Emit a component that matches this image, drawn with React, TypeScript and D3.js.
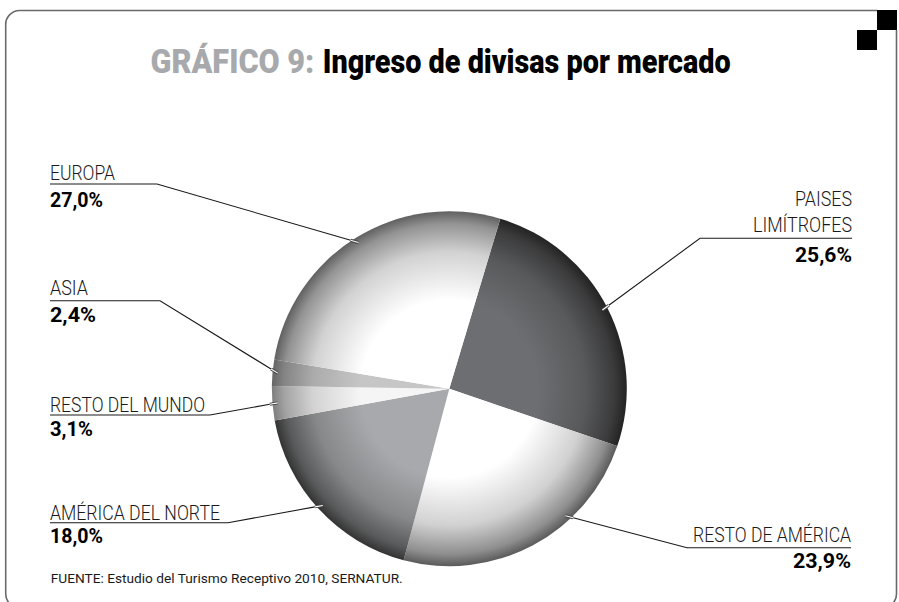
import React from "react";
import * as d3 from "d3";

// data
const categories = ["PAISES LIMÍTROFES", "RESTO DE AMÉRICA", "AMÉRICA DEL NORTE", "RESTO DEL MUNDO", "ASIA", "EUROPA"];
const nameLines = [["PAISES", "LIMÍTROFES"], ["RESTO DE AMÉRICA"], ["AMÉRICA DEL NORTE"], ["RESTO DEL MUNDO"], ["ASIA"], ["EUROPA"]];
const shares = [25.6, 23.9, 18.0, 3.1, 2.4, 27.0];
const baseColors = ["#6d6e71", "#ffffff", "#a7a9ac", "#f5f5f5", "#c6c6c6", "#ffffff"];
const rimColors = ["#232323", "#5a5a5a", "#333333", "#7d7d7d", "#666666", "#606060"];

const titleLead = "GRÁFICO 9:";
const titleText = "Ingreso de divisas por mercado";
const sourceText = "FUENTE: Estudio del Turismo Receptivo 2010, SERNATUR.";

// label layout (positions only)
const labelLayout = [
  { side: "right", x: 852, nameY: [206, 231.5], nameW: [57, 99], lineY: 238.3, valueY: 261.5, valueW: 57, elbowX: 700, shift: 0 },
  { side: "right", x: 851, nameY: [541.5], nameW: [158], lineY: 547.7, valueY: 568, valueW: 58, elbowX: 687, shift: -14.3 },
  { side: "left", x: 50, nameY: [520], nameW: [170], lineY: 522.7, valueY: 543, valueW: 53, elbowX: 228, shift: 0 },
  { side: "left", x: 50, nameY: [411.5], nameW: [155], lineY: 415, valueY: 436, valueW: 43, elbowX: 210, shift: 0 },
  { side: "left", x: 50, nameY: [295], nameW: [38], lineY: 300.7, valueY: 321.5, valueW: 46, elbowX: 160, shift: 0 },
  { side: "left", x: 50, nameY: [180], nameW: [65], lineY: 184, valueY: 207, valueW: 53, elbowX: 157, shift: 0 },
];

const W = 899;
const H = 602;
const cx = 449.3;
const cy = 388.7;
const R = 177.5;
const startDeg = 16.7;

const esLocale = d3.formatLocale({ decimal: ",", thousands: ".", grouping: [3], currency: ["$", ""] });
const fmt = esLocale.format(".1f");

const FONT = "Roboto, 'Liberation Sans', Arial, sans-serif";

export default function App() {
  const rad = (startDeg * Math.PI) / 180;
  const pie = d3
    .pie<number>()
    .value((d) => d)
    .sort(null)
    .startAngle(rad)
    .endAngle(rad + Math.PI * 2);
  const arcs = pie(shares);
  const arc = d3.arc<d3.PieArcDatum<number>>().innerRadius(0).outerRadius(R);

  const pt = (angle: number, r: number) => [cx + Math.sin(angle) * r, cy - Math.cos(angle) * r];

  return (
    <svg
      width={W}
      height={H}
      style={{ position: "absolute", left: 0, top: 0, display: "block", background: "#fff" }}
      fontFamily={FONT}
    >
      <defs>
        {arcs.map((a, i) => {
          const mix = d3.interpolateRgb(baseColors[i], rimColors[i]);
          return (
            <radialGradient key={i} id={`g${i}`} gradientUnits="userSpaceOnUse" cx={0} cy={0} r={R}>
              <stop offset="0" stopColor={baseColors[i]} />
              <stop offset="0.5" stopColor={baseColors[i]} />
              <stop offset="0.77" stopColor={mix(0.28)} />
              <stop offset="0.93" stopColor={mix(0.68)} />
              <stop offset="1" stopColor={rimColors[i]} />
            </radialGradient>
          );
        })}
      </defs>

      {/* frame */}
      <path
        d={`M896.5,30 V594 A14,14 0 0 1 882.5,608 H19.7 A14,14 0 0 1 5.7,594 V24.5 A14,14 0 0 1 19.7,10.5 H877`}
        fill="none"
        stroke="#6a6a6a"
        strokeWidth={1.6}
      />
      <rect x={877} y={10} width={20} height={20} fill="#000" />
      <rect x={857} y={30} width={20} height={20} fill="#000" />

      {/* title */}
      <text x={150.6} y={73.3} fontSize={33} fontWeight={900} fill="#a7a9ac" textLength={163.7} lengthAdjust="spacingAndGlyphs">
        {titleLead}
      </text>
      <text x={322.7} y={73.3} fontSize={33} fontWeight={900} fill="#000" textLength={408} lengthAdjust="spacingAndGlyphs">
        {titleText}
      </text>

      {/* pie */}
      <g transform={`translate(${cx},${cy})`}>
        {arcs.map((a, i) => (
          <path key={categories[i]} d={arc(a) || ""} fill={`url(#g${i})`} />
        ))}
      </g>

      {/* leaders and labels */}
      {arcs.map((a, i) => {
        const L = labelLayout[i];
        const mid = (a.startAngle + a.endAngle) / 2 + (L.shift * Math.PI) / 180;
        const [ax, ay] = pt(mid, R * 0.97);
        const dx = ax - L.elbowX;
        const dy = ay - L.lineY;
        const len = Math.hypot(dx, dy);
        const bx = ax - (dx / len) * 8;
        const by = ay - (dy / len) * 8;
        const anchor = L.side === "left" ? "start" : "end";
        return (
          <g key={categories[i]}>
            <path d={`M${L.x},${L.lineY} H${L.elbowX} L${bx},${by}`} fill="none" stroke="#1a1a1a" strokeWidth={1.1} />
            <line x1={bx} y1={by} x2={ax} y2={ay} stroke="#444" strokeWidth={3} />
            <line x1={bx} y1={by} x2={ax} y2={ay} stroke="#fff" strokeWidth={1.1} />
            {nameLines[i].map((t, j) => (
              <text
                key={t}
                x={L.x}
                y={L.nameY[j]}
                textAnchor={anchor}
                fontSize={21}
                fontWeight={300}
                fill="#1a1a1a"
                textLength={L.nameW[j]}
                lengthAdjust="spacingAndGlyphs"
              >
                {t}
              </text>
            ))}
            <text
              x={L.x}
              y={L.valueY}
              textAnchor={anchor}
              fontSize={21}
              fontWeight={700}
              fill="#000"
              textLength={L.valueW}
              lengthAdjust="spacingAndGlyphs"
            >
              {fmt(shares[i]) + "%"}
            </text>
          </g>
        );
      })}

      {/* source */}
      <text x={50.7} y={582.5} fontSize={13.5} fill="#1a1a1a" textLength={352} lengthAdjust="spacingAndGlyphs">
        {sourceText}
      </text>
    </svg>
  );
}
